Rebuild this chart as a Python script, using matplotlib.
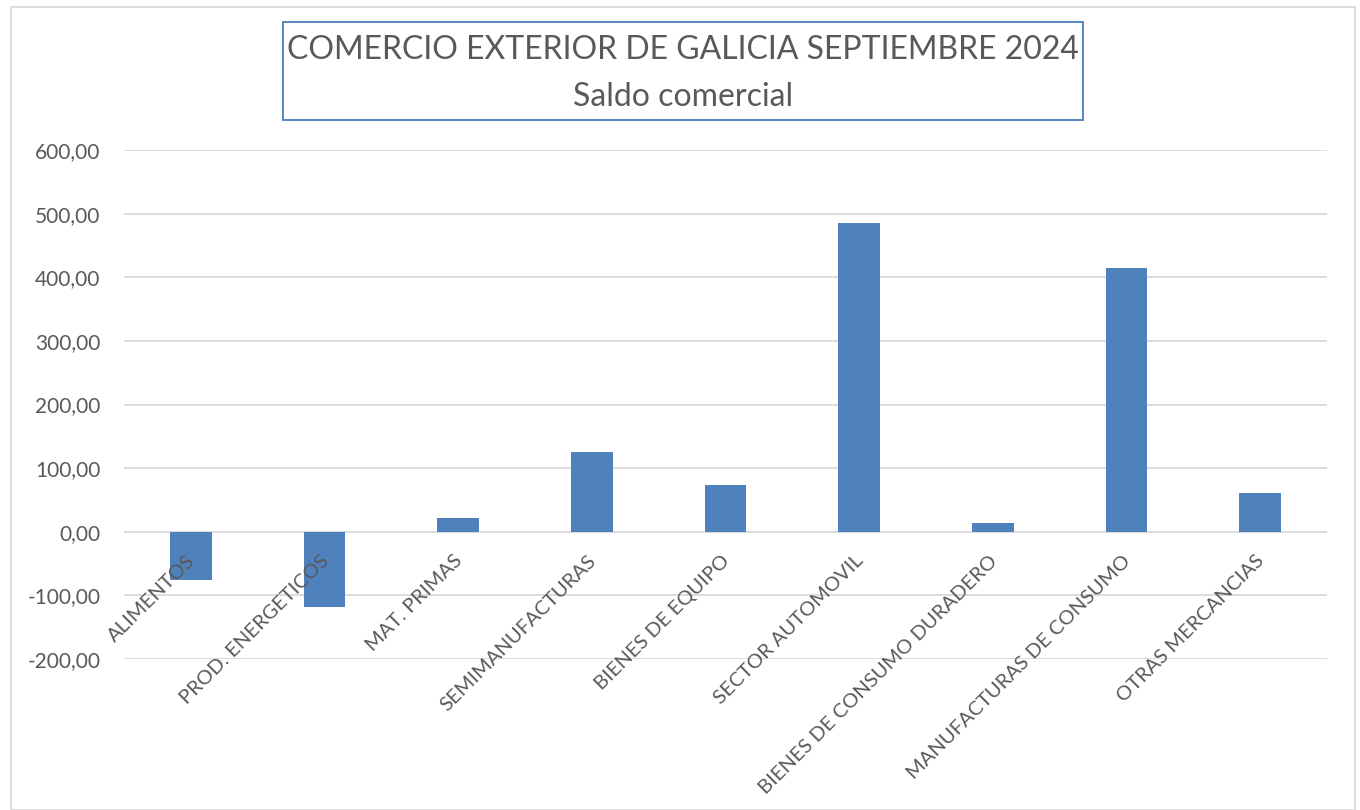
import matplotlib.pyplot as plt
import numpy as np
from matplotlib.patches import Rectangle

plt.rcParams["font.family"] = ["Lato", "DejaVu Sans"]

categories = [
    "ALIMENTOS",
    "PROD. ENERGETICOS",
    "MAT. PRIMAS",
    "SEMIMANUFACTURAS",
    "BIENES DE EQUIPO",
    "SECTOR AUTOMOVIL",
    "BIENES DE CONSUMO DURADERO",
    "MANUFACTURAS DE CONSUMO",
    "OTRAS MERCANCIAS",
]
saldo = [-76, -118, 22, 126, 74, 485, 14, 415, 61]
yticks = [-200, -100, 0, 100, 200, 300, 400, 500, 600]

W, H = 1360, 810
fig = plt.figure(figsize=(W / 100, H / 100), dpi=100)
ax = fig.add_axes([124 / W, 1 - 659 / H, (1327 - 124) / W, (659 - 150) / H])

x = np.arange(len(categories))
ax.bar(x, saldo, width=0.31, color="#4F81BD", zorder=3)

ax.set_xlim(-0.5, len(categories) - 0.5)
ax.set_ylim(-200, 600)
ax.set_yticks(yticks)
ax.set_yticklabels([f"{v:,.2f}".replace(".", ",") for v in yticks],
                   fontsize=15, color="#595959")
ax.tick_params(axis="y", length=0, pad=17)
ax.grid(axis="y", color="#D9D9D9", linewidth=1.3, zorder=0)
ax.set_xticks([])
for s in ax.spines.values():
    s.set_visible(False)

# etiquetas de categoria en el eje 0
for xi, lab in zip(x, categories):
    ax.text(xi - 0.035, -32, lab, rotation=45, rotation_mode="anchor",
            ha="right", va="top", fontsize=14.5, color="#595959", zorder=4)

# marco del grafico
fig.patches.append(Rectangle((11 / W, 0), (1355 - 11) / W, 1 - 7 / H,
                             transform=fig.transFigure, fill=False,
                             edgecolor="#D9D9D9", linewidth=1.3))
# caja del titulo
fig.patches.append(Rectangle((283 / W, 1 - 120 / H), (1083 - 283) / W, (120 - 22) / H,
                             transform=fig.transFigure, fill=False,
                             edgecolor="#4A7EBB", linewidth=1.3))
fig.text(683 / W, 1 - 50 / H, "COMERCIO EXTERIOR DE GALICIA SEPTIEMBRE 2024",
         ha="center", va="center", fontsize=23, color="#595959")
fig.text(683 / W, 1 - 97 / H, "Saldo comercial",
         ha="center", va="center", fontsize=23, color="#595959")

fig.savefig("out.png", dpi=100)
